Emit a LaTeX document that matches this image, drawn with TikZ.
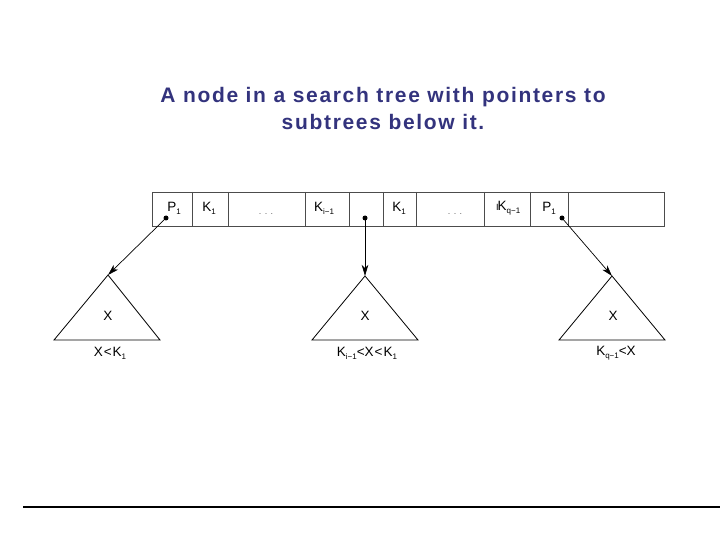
\documentclass[tikz,border=0pt]{standalone}
\usepackage{fontspec}
\setmainfont{Liberation Sans}
\usetikzlibrary{arrows.meta}
\definecolor{titleblue}{RGB}{51,51,125}
\newcommand\sbs[1]{\raisebox{-0.4ex}{\fontsize{8}{8}\selectfont #1}}
\tikzset{
  cellbox/.style={draw=black!70, line width=0.6pt},
  lbl/.style={font=\fontsize{13.5}{13.5}\selectfont, inner sep=0pt},
  dotsl/.style={font=\fontsize{9}{9}\selectfont, text=black!60, inner sep=0pt},
  tri/.style={draw=black, line width=0.8pt},
  ptr/.style={draw=black, line width=0.7pt, -{Stealth[length=11pt,width=6.5pt,inset=3pt]}},
  pdot/.style={circle, fill=black, inner sep=0pt, minimum size=5pt},
}
\begin{document}
\begin{tikzpicture}[x=1pt,y=-1pt]
\useasboundingbox (0,0) rectangle (720,540);
% title
\node[font=\fontsize{21}{27}\selectfont\bfseries\addfontfeature{LetterSpace=8}, text=titleblue, align=center] (title) at (383,108)
  {A node in a search tree with pointers to\\subtrees below it.};
% record
\draw[cellbox] (152,192) rectangle (664,226);
\foreach \x in {192,228,305,349,383,416,484,530,568}
  \draw[cellbox] (\x,192) -- (\x,226);
\node[lbl] (p1) at (174,208) {P\sbs{1}};
\node[lbl] (k1) at (209,208) {K\sbs{1}};
\node[dotsl] (d1) at (266,214) {. . .};
\node[lbl] (ki) at (324,208) {K\sbs{i−1}};
\node[lbl] (k1b) at (399,208) {K\sbs{1}};
\node[dotsl] (d2) at (455,214) {. . .};
\node[lbl] (kq) at (509,208) {\llap{\fontsize{9}{9}\selectfont I\kern-1pt}K\sbs{q−1}};
\node[lbl] (p2) at (549,208) {P\sbs{1}};
% pointer dots
\node[pdot] (a) at (166,218) {};
\node[pdot] (b) at (365,218) {};
\node[pdot] (c) at (562,218) {};
% triangles
\coordinate (t1) at (108,275);
\coordinate (t2) at (365,276);
\coordinate (t3) at (612,276);
\draw[tri] (t1) -- (54,340) -- (160,340) -- cycle;
\draw[tri] (t2) -- (312,340) -- (418,340) -- cycle;
\draw[tri] (t3) -- (559,340) -- (665,340) -- cycle;
\node[lbl] (x1) at (108,316) {X};
\node[lbl] (x2) at (365,316) {X};
\node[lbl] (x3) at (613,316) {X};
\node[lbl] (l1) at (110,353) {X\kern1pt<\kern1pt K\sbs{1}};
\node[lbl] (l2) at (367,353) {K\sbs{i−1}<X\kern1pt<\kern1pt K\sbs{1}};
\node[lbl] (l3) at (616,353) {K\sbs{q−1}<X};
% pointers
\draw[ptr] (a.center) -- (t1);
\draw[ptr] (b.center) -- (t2);
\draw[ptr] (c.center) -- (t3);
% bottom rule
\coordinate (r1) at (23,507);
\coordinate (r2) at (720,507);
\draw[line width=1.2pt] (r1) -- (r2);
\end{tikzpicture}
\end{document}
